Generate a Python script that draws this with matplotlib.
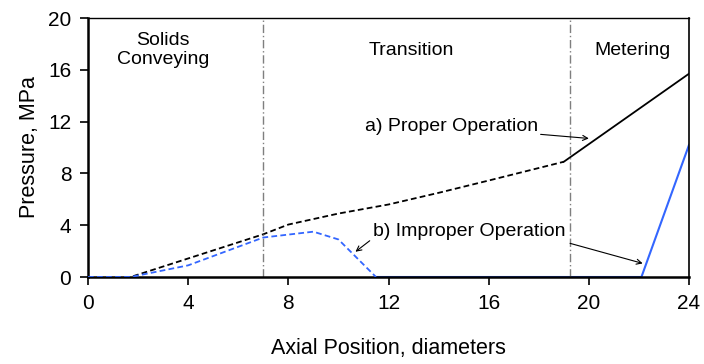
import matplotlib.pyplot as plt

# axial position (diameters) and pressure (MPa)
x_proper_dash = [0, 1.7, 7, 8, 10, 12, 14, 16, 19]
p_proper_dash = [0, 0, 3.3, 4.05, 4.9, 5.6, 6.5, 7.45, 8.9]
x_proper_solid = [19, 24]
p_proper_solid = [8.9, 15.7]

x_improper_dash = [0, 1.7, 4, 7, 9, 10, 11.5]
p_improper_dash = [0, 0, 0.9, 3.05, 3.5, 2.9, 0]
x_improper_solid = [11.5, 22.1, 24]
p_improper_solid = [0, 0, 10.2]

zone_edges = [7.0, 19.25]
zone_names = ['Solids\nConveying', 'Transition', 'Metering']
zone_centers = [3.0, 12.9, 21.75]

x_ticks = [0, 4, 8, 12, 16, 20, 24]
y_ticks = [0, 4, 8, 12, 16, 20]


def main():
    plt.rcParams['font.family'] = ['Liberation Sans', 'DejaVu Sans']
    fig = plt.figure(figsize=(7.04, 3.64), dpi=100)
    ax = fig.add_axes([0.125, 0.239, 0.8537, 0.7115])

    blue = '#3366ff'
    ax.plot(x_proper_dash, p_proper_dash, color='black', lw=1.3, dashes=(3.2, 1.8))
    ax.plot(x_proper_solid, p_proper_solid, color='black', lw=1.3)
    ax.plot(x_improper_dash, p_improper_dash, color=blue, lw=1.3, dashes=(3.2, 1.8), zorder=3)
    ax.plot(x_improper_solid, p_improper_solid, color=blue, lw=1.5, zorder=1)

    for xe in zone_edges:
        ax.axvline(xe, color='#7f7f7f', lw=1.0, dashes=(6, 2, 1, 2))

    for name, xc in zip(zone_names, zone_centers):
        ax.text(xc, 17.5, name, ha='center', va='center', fontsize=14, linespacing=1.15)

    arrow = dict(arrowstyle='->', color='black', lw=0.8, shrinkA=0, shrinkB=0,
                 mutation_scale=9)
    ax.annotate('a) Proper Operation', xy=(20.0, 10.7), xytext=(11.05, 11.6),
                ha='left', va='center', fontsize=14, arrowprops=arrow)
    ax.text(11.4, 3.5, 'b) Improper Operation', ha='left', va='center', fontsize=14)
    ax.annotate('', xy=(10.68, 1.95), xytext=(11.25, 2.8), arrowprops=arrow)
    ax.annotate('', xy=(22.15, 1.05), xytext=(19.25, 2.6), arrowprops=arrow)

    ax.set_xlim(0, 24)
    ax.set_ylim(0, 20)
    ax.set_xticks(x_ticks)
    ax.set_yticks(y_ticks)
    ax.tick_params(direction='out', length=6, width=1.2, labelsize=15, pad=6)
    ax.set_xlabel('Axial Position, diameters', fontsize=15.5, labelpad=18)
    ax.set_ylabel('Pressure, MPa', fontsize=15.5, labelpad=6)

    ax.spines['left'].set_linewidth(1.8)
    ax.spines['bottom'].set_linewidth(1.8)
    ax.spines['top'].set_linewidth(1.0)
    ax.spines['right'].set_linewidth(1.2)

    fig.savefig('out.png', dpi=100)
    plt.close(fig)


if __name__ == '__main__':
    main()
